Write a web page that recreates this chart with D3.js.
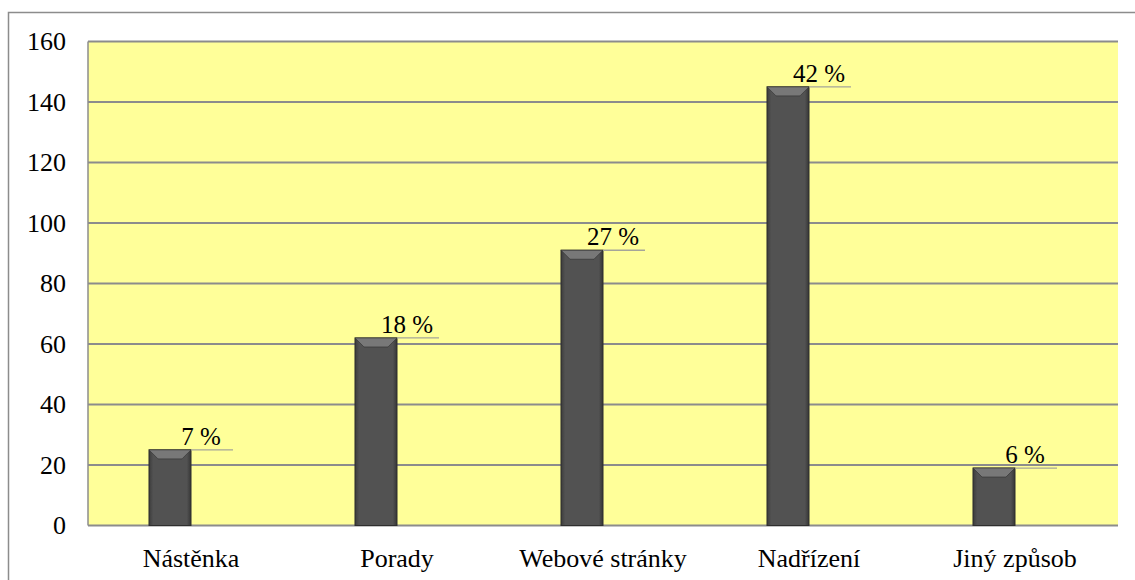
<!DOCTYPE html>
<html>
<head>
<meta charset="utf-8">
<script src="https://cdn.jsdelivr.net/npm/d3@7"></script>
<style>
  body { margin: 0; background: #fff; }
</style>
</head>
<body>
<div id="chart"></div>
<script>
const categories = ["Nástěnka", "Porady", "Webové stránky", "Nadřízení", "Jiný způsob"];
const counts = [25, 62, 91, 145, 19];
const percentLabels = ["7 %", "18 %", "27 %", "42 %", "6 %"];
const yTicks = [0, 20, 40, 60, 80, 100, 120, 140, 160];

const width = 1135, height = 580;
const margin = { top: 41.5, right: 17, bottom: 54.5, left: 88 };
const serif = "'Liberation Serif', 'Times New Roman', serif";

const svg = d3.select("#chart").append("svg")
  .attr("width", width)
  .attr("height", height)
  .style("font-family", serif);

const defs = svg.append("defs");
const grad = defs.append("linearGradient").attr("id", "barGrad")
  .attr("x1", 0).attr("x2", 1).attr("y1", 0).attr("y2", 0);
grad.append("stop").attr("offset", "0%").attr("stop-color", "#3c3c3c");
grad.append("stop").attr("offset", "10%").attr("stop-color", "#525252");
grad.append("stop").attr("offset", "90%").attr("stop-color", "#525252");
grad.append("stop").attr("offset", "100%").attr("stop-color", "#363636");
const blur = defs.append("filter").attr("id", "shadow");
blur.append("feGaussianBlur").attr("stdDeviation", 1.5);

// outer frame
svg.append("path")
  .attr("d", `M8.5,${height} V12.5 H${width}`)
  .attr("fill", "none")
  .attr("stroke", "#8c8c8c")
  .attr("stroke-width", 1.5);

const x = d3.scaleBand()
  .domain(categories)
  .range([margin.left, width - margin.right]);

// two slots per category: the bar and the space its label sits over
const slot = d3.scaleBand()
  .domain(["bar", "label"])
  .range([0, x.bandwidth()])
  .paddingOuter(1.452);

const y = d3.scaleLinear()
  .domain([0, 160])
  .range([height - margin.bottom, margin.top]);

// plot area
svg.append("rect")
  .attr("x", margin.left)
  .attr("y", margin.top)
  .attr("width", width - margin.right - margin.left)
  .attr("height", y(0) - margin.top)
  .attr("fill", "#ffff99");

// gridlines
svg.append("g")
  .selectAll("line")
  .data(yTicks)
  .join("line")
  .attr("x1", margin.left)
  .attr("x2", width - margin.right)
  .attr("y1", d => y(d))
  .attr("y2", d => y(d))
  .attr("stroke", "#8c8c8c")
  .attr("stroke-width", 2);

svg.append("line")
  .attr("x1", margin.left).attr("x2", margin.left)
  .attr("y1", margin.top).attr("y2", y(0))
  .attr("stroke", "#8c8c8c")
  .attr("stroke-width", 1.5);

// y axis labels
svg.append("g")
  .attr("transform", `translate(${margin.left},0)`)
  .call(d3.axisLeft(y).tickValues(yTicks).tickSize(0).tickPadding(22))
  .call(g => g.select(".domain").remove())
  .attr("font-family", null)
  .selectAll("text")
  .style("font-family", serif)
  .style("font-size", "26px")
  .attr("fill", "#000");

// x axis labels
svg.append("g")
  .attr("transform", `translate(0,${y(0)})`)
  .call(d3.axisBottom(x).tickSize(0).tickPadding(23))
  .call(g => g.select(".domain").remove())
  .attr("font-family", null)
  .selectAll("text")
  .style("font-family", serif)
  .style("font-size", "26px")
  .attr("fill", "#000");

const bw = slot.bandwidth();
const barX = d => x(d) + slot("bar");
const bars = svg.append("g")
  .selectAll("g")
  .data(categories)
  .join("g");

bars.append("rect")
  .attr("x", barX)
  .attr("y", (d, i) => y(counts[i]))
  .attr("width", bw)
  .attr("height", (d, i) => y(0) - y(counts[i]))
  .attr("fill", "url(#barGrad)")
  .attr("stroke", "#2e2e2e")
  .attr("stroke-width", 1);

// bevel on top of each bar
bars.append("path")
  .attr("d", (d, i) => {
    const x0 = barX(d), x1 = x0 + bw, t = y(counts[i]), b = 9;
    return `M${x0},${t} L${x1},${t} L${x1 - b},${t + b} L${x0 + b},${t + b} Z`;
  })
  .attr("fill", "#787878")
  .attr("stroke", "#2e2e2e")
  .attr("stroke-width", 0.6);

// leader lines under percentage labels
const lineX = d => x(d) + slot("label");
bars.append("line")
  .attr("x1", lineX)
  .attr("x2", d => lineX(d) + bw)
  .attr("y1", (d, i) => y(counts[i]) + 1.5)
  .attr("y2", (d, i) => y(counts[i]) + 1.5)
  .attr("stroke", "#d6d07a")
  .attr("stroke-width", 3)
  .attr("filter", "url(#shadow)");
bars.append("line")
  .attr("x1", lineX)
  .attr("x2", d => lineX(d) + bw)
  .attr("y1", (d, i) => y(counts[i]))
  .attr("y2", (d, i) => y(counts[i]))
  .attr("stroke", "#a5a59a")
  .attr("stroke-width", 1.3);

bars.append("text")
  .attr("x", d => lineX(d) + bw * 0.24)
  .attr("y", (d, i) => y(counts[i]) - 5)
  .attr("text-anchor", "middle")
  .style("font-family", serif)
  .style("font-size", "25px")
  .attr("fill", "#000")
  .text((d, i) => percentLabels[i]);
</script>
</body>
</html>
